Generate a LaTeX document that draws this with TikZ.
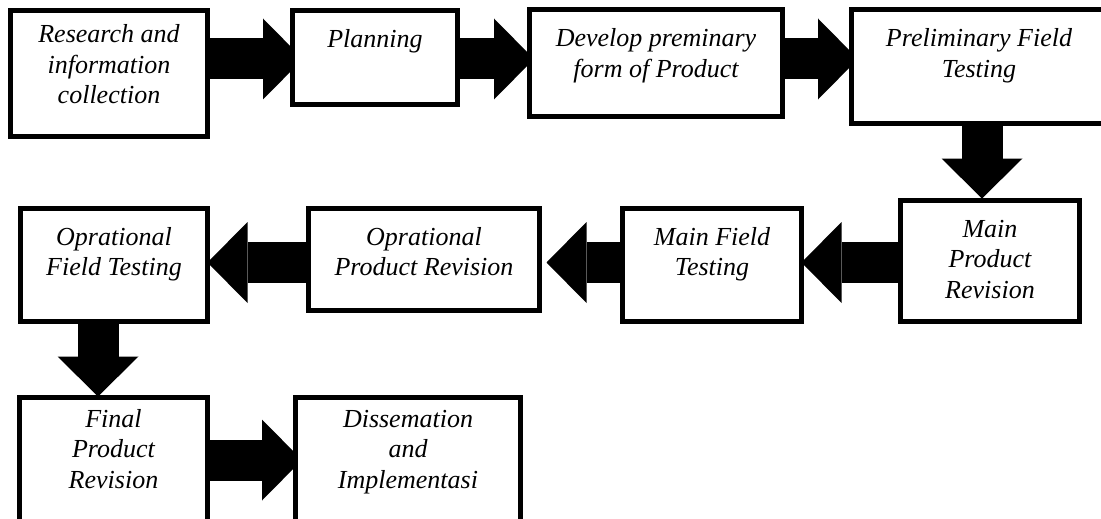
\documentclass[tikz,border=0pt]{standalone}
\usepackage{fontspec}
\setmainfont{Liberation Serif}
\usetikzlibrary{arrows.meta,backgrounds,calc}
\newcommand\boxtext[4]{\begin{minipage}[t][#3pt][t]{#2pt}\centering\fontsize{26}{30.5}\selectfont\itshape\rule{0pt}{#1pt}#4\end{minipage}}
\tikzset{
  stepbox/.style={draw, line width=5pt, fill=white, inner sep=0pt, outer sep=0pt, anchor=north west, rectangle},
  blockarrow/.style={line width=41pt, -{Triangle[width=81pt,length=40pt,line width=0pt]}},
}
\begin{document}
\begin{tikzpicture}[x=1pt,y=-1pt]
\useasboundingbox (0,0) rectangle (1101,519);
\clip (0,0) rectangle (1101,519);

\node[stepbox] (research) at (10.5,10.5) {\boxtext{32.5}{197}{126}{Research and\\information\\collection}};
\node[stepbox] (planning) at (292.5,10.5) {\boxtext{37.5}{165}{94}{Planning}};
\node[stepbox] (develop) at (529.5,9.5) {\boxtext{37.5}{253}{107}{Develop preminary\\form of Product}};
\node[stepbox] (prelim) at (851.5,9.5) {\boxtext{37.5}{255}{114}{Preliminary Field\\Testing}};
\node[stepbox] (mpr) at (900.5,200.5) {\boxtext{36.5}{179}{121}{Main\\Product\\Revision}};
\node[stepbox] (mft) at (622.5,208.5) {\boxtext{36.5}{179}{113}{Main Field\\Testing}};
\node[stepbox] (opr) at (308.5,208.5) {\boxtext{36.5}{231}{102}{Oprational\\Product Revision}};
\node[stepbox] (oft) at (20.5,208.5) {\boxtext{36.5}{187}{113}{Oprational\\Field Testing}};
\node[stepbox] (fpr) at (19.5,397.5) {\boxtext{29.5}{188}{125}{Final\\Product\\Revision}};
\node[stepbox] (dis) at (295.5,397.5) {\boxtext{29.5}{225}{125}{Dissemation\\and\\Implementasi}};

\coordinate (r1) at (0,59);
\coordinate (r2) at (0,262.5);
\coordinate (r3) at (0,460);
\coordinate (c4) at (982,0);
\coordinate (c8) at (98,0);

\begin{scope}[on background layer]
\fill[white] (0,0) rectangle (1101,519);
\draw[blockarrow] (research.east |- r1) -- ($(planning.west |- r1)+(10.5,0)$);
\draw[blockarrow] (planning.east |- r1) -- ($(develop.west |- r1)+(4.5,0)$);
\draw[blockarrow] (develop.east |- r1) -- ($(prelim.west |- r1)+(6.5,0)$);
\draw[blockarrow] (c4 |- prelim.south) -- ($(c4 |- mpr.north)+(0,-2)$);
\draw[blockarrow] (mpr.west |- r2) -- (mft.east |- r2);
\draw[blockarrow] (mft.west |- r2) -- ($(opr.east |- r2)+(7,0)$);
\draw[blockarrow] (opr.west |- r2) -- (oft.east |- r2);
\draw[blockarrow] (c8 |- oft.south) -- ($(c8 |- fpr.north)+(0,-1)$);
\draw[blockarrow] (fpr.east |- r3) -- ($(dis.west |- r3)+(6.5,0)$);
\end{scope}
\end{tikzpicture}
\end{document}
